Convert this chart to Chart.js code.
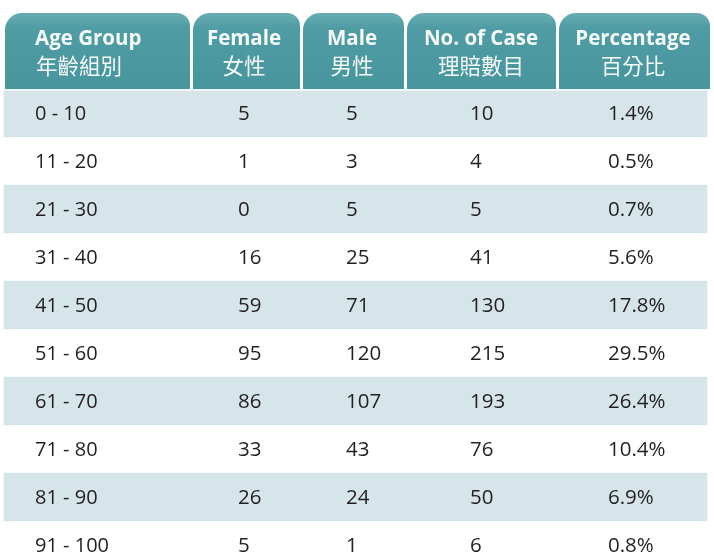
<!DOCTYPE html>
<html>
<head>
<meta charset="utf-8">
<title>Age Group Claims</title>
<script src="https://cdn.jsdelivr.net/npm/chart.js@4.4.0/dist/chart.umd.min.js"></script>
<style>
  html, body { margin: 0; padding: 0; background: #fff; overflow: hidden; }
  #wrap { width: 714px; height: 569px; }
</style>
</head>
<body>
<div id="wrap"><canvas id="tableChart" width="714" height="569"></canvas></div>
<script>
// Table data
const ageGroups = ['0 - 10', '11 - 20', '21 - 30', '31 - 40', '41 - 50', '51 - 60', '61 - 70', '71 - 80', '81 - 90', '91 - 100'];
const female = [5, 1, 0, 16, 59, 95, 86, 33, 26, 5];
const male = [5, 3, 5, 25, 71, 120, 107, 43, 24, 1];
const cases = [10, 4, 5, 41, 130, 215, 193, 76, 50, 6];
const percentage = ['1.4%', '0.5%', '0.7%', '5.6%', '17.8%', '29.5%', '26.4%', '10.4%', '6.9%', '0.8%'];
const headersEn = ['Age Group', 'Female', 'Male', 'No. of Case', 'Percentage'];
const headersZh = ['年齡組別', '女性', '男性', '理賠數目', '百分比'];

// Layout (x values are in units of the x scale)
const tableSpan = [4, 707];
const tabEdges = [[5, 190], [193, 300], [303, 404], [407, 556], [559, 710]];
const cellX = [35, 238, 346, 470, 608];
const headCenterX = [null, 244, 352, 481, 633];
const HEADER_TOP = 13;
const HEADER_BOTTOM = 89;

(function () {
  const columns = [ageGroups, female, male, cases, percentage];

  // light band on every other row
  const bands = ageGroups.map((g, i) => (i % 2 === 0 ? tableSpan : null));

  const tablePlugin = {
    id: 'tableText',
    beforeDatasetsDraw(chart) {
      const ctx = chart.ctx;
      const xs = chart.scales.x;
      ctx.save();
      const grad = ctx.createLinearGradient(0, HEADER_TOP, 0, HEADER_BOTTOM);
      grad.addColorStop(0, '#68adb3');
      grad.addColorStop(0.2, '#4f9ca4');
      grad.addColorStop(1, '#48959e');
      ctx.fillStyle = grad;
      tabEdges.forEach(([a, b]) => {
        const x0 = xs.getPixelForValue(a);
        const x1 = xs.getPixelForValue(b);
        ctx.beginPath();
        ctx.roundRect(x0, HEADER_TOP, x1 - x0, HEADER_BOTTOM - HEADER_TOP, [17, 13, 0, 0]);
        ctx.fill();
      });

      // header text
      ctx.fillStyle = '#f4fafa';
      headersEn.forEach((t, i) => {
        ctx.font = 'bold 20.5px "Open Sans"';
        ctx.textBaseline = 'alphabetic';
        ctx.textAlign = i === 0 ? 'left' : 'center';
        const x = xs.getPixelForValue(i === 0 ? cellX[0] : headCenterX[i]);
        ctx.fillText(t, x, 45);
        ctx.font = '21.5px "Noto Sans CJK TC"';
        ctx.textBaseline = 'middle';
        ctx.fillText(headersZh[i], i === 0 ? x + 1 : x, 66);
      });
      ctx.restore();
    },
    afterDatasetsDraw(chart) {
      const ctx = chart.ctx;
      const xs = chart.scales.x;
      const ys = chart.scales.y;
      ctx.save();
      // thin light line under the header
      ctx.fillStyle = '#eef6f7';
      ctx.fillRect(xs.getPixelForValue(tableSpan[0]), HEADER_BOTTOM, xs.getPixelForValue(tableSpan[1]) - xs.getPixelForValue(tableSpan[0]), 2);

      ctx.fillStyle = '#231f20';
      ctx.textAlign = 'left';
      ctx.textBaseline = 'alphabetic';
      ageGroups.forEach((g, r) => {
        const yc = ys.getPixelForValue(r);
        columns.forEach((col, c) => {
          const size = c === 0 ? 20 : 20.5;
          ctx.font = size + 'px "Open Sans"';
          ctx.fillText(String(col[r]), xs.getPixelForValue(cellX[c]), yc + size * 0.36);
        });
      });
      ctx.restore();
    }
  };

  const ctx = document.getElementById('tableChart').getContext('2d');
  new Chart(ctx, {
    type: 'bar',
    data: {
      labels: ageGroups,
      datasets: [
        {
          data: bands,
          backgroundColor: '#d6e5e9',
          borderWidth: 0,
          barPercentage: 1,
          categoryPercentage: 1
        }
      ]
    },
    options: {
      indexAxis: 'y',
      responsive: false,
      animation: false,
      layout: { padding: { top: HEADER_BOTTOM, left: 0, right: 0, bottom: 0 } },
      scales: {
        x: { type: 'linear', min: 0, max: 714, display: false },
        y: { display: false }
      },
      plugins: {
        legend: { display: false },
        tooltip: { enabled: false }
      }
    },
    plugins: [tablePlugin]
  });
})();
</script>
</body>
</html>
